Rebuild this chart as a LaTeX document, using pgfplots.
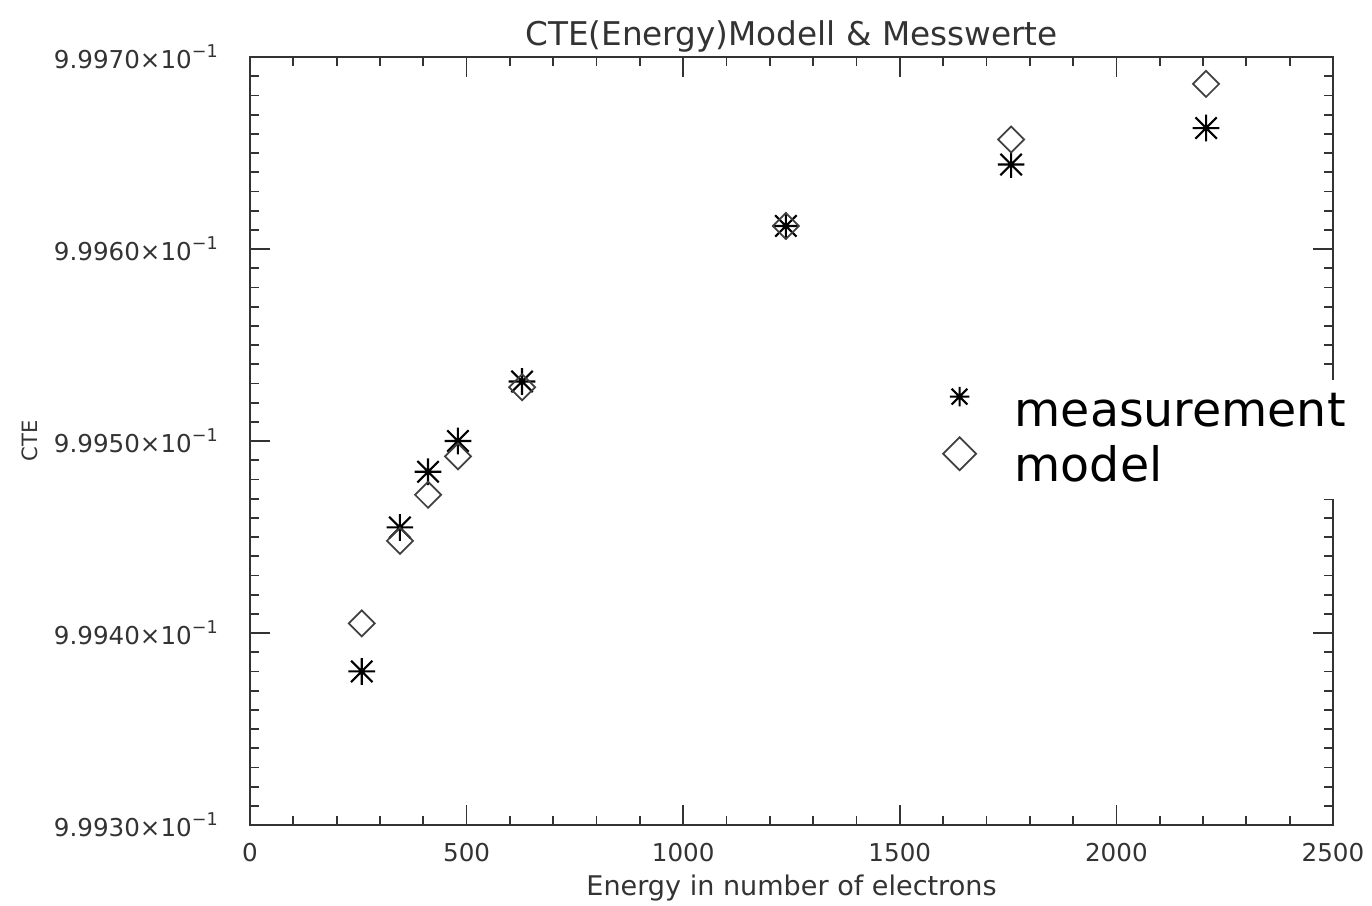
\documentclass[border=0pt]{standalone}
\usepackage{fontspec}
\setmainfont{DejaVu Sans}
\usepackage{pgfplots}
\pgfplotsset{compat=1.18}

% IDL-like marks: 8-arm asterisk and open diamond
\pgfdeclareplotmark{star8}{%
  \pgfpathmoveto{\pgfqpoint{-\pgfplotmarksize}{0pt}}\pgfpathlineto{\pgfqpoint{\pgfplotmarksize}{0pt}}%
  \pgfpathmoveto{\pgfqpoint{0pt}{-\pgfplotmarksize}}\pgfpathlineto{\pgfqpoint{0pt}{\pgfplotmarksize}}%
  \pgfpathmoveto{\pgfqpoint{-0.8\pgfplotmarksize}{-0.8\pgfplotmarksize}}\pgfpathlineto{\pgfqpoint{0.8\pgfplotmarksize}{0.8\pgfplotmarksize}}%
  \pgfpathmoveto{\pgfqpoint{-0.8\pgfplotmarksize}{0.8\pgfplotmarksize}}\pgfpathlineto{\pgfqpoint{0.8\pgfplotmarksize}{-0.8\pgfplotmarksize}}%
  \pgfusepathqstroke}
\pgfdeclareplotmark{dia}{%
  \pgfpathmoveto{\pgfqpoint{0pt}{\pgfplotmarksize}}\pgfpathlineto{\pgfqpoint{\pgfplotmarksize}{0pt}}%
  \pgfpathlineto{\pgfqpoint{0pt}{-\pgfplotmarksize}}\pgfpathlineto{\pgfqpoint{-\pgfplotmarksize}{0pt}}%
  \pgfpathclose\pgfusepathqstroke}

\pgfplotsset{
  starleg/.style={legend image code/.code={\path[draw=none] (-1.8mm,0)--(4.8mm,0); \draw[##1,only marks,mark size=2.8pt] plot coordinates {(0mm,1.6mm)};}},
  dialeg/.style={legend image code/.code={\path[draw=none] (-1.8mm,0)--(4.8mm,0); \draw[##1,only marks,mark size=4.7pt] plot coordinates {(0mm,1.2mm)};}},
}

\pgfplotstableread{
x cte
258 0.999380
346 0.999455
411 0.999484
480 0.999500
628 0.999531
1237 0.999612
1757 0.999644
2207 0.999663
}\measured
\pgfplotstableread{
x cte
258 0.999405
346 0.999448
411 0.999472
480 0.999492
628 0.999528
1237 0.999612
1757 0.999657
2207 0.999686
}\model

\begin{document}
\begin{tikzpicture}
\begin{axis}[
  width=108.3mm, height=76.8mm, scale only axis,
  xmin=0, xmax=2500, ymin=0.9993, ymax=0.9997,
  xtick={0,500,...,2500}, minor x tick num=4,
  ytick={0.9993,0.9994,0.9995,0.9996,0.9997},
  yticklabels={9.9930×10\textsuperscript{−1},9.9940×10\textsuperscript{−1},9.9950×10\textsuperscript{−1},9.9960×10\textsuperscript{−1},9.9970×10\textsuperscript{−1}},
  scaled y ticks=false,
  minor y tick num=9,
  tick align=inside,
  major tick length=2mm, minor tick length=0.9mm,
  axis line style={black!80, line width=0.6pt},
  every tick/.style={black!80, line width=0.5pt},
  tick label style={font=\fontsize{7}{8}\selectfont, text=black!80},
  xticklabel style={inner sep=0.5pt, yshift=-1.6mm, /pgf/number format/set thousands separator={}},
  yticklabel style={xshift=-1.8mm},
  /pgf/number format/assume math mode=true,
  title={CTE(Energy)Modell \& Messwerte},
  title style={font=\fontsize{9.3}{11}\selectfont, text=black!80, yshift=-2.9mm},
  xlabel={Energy in number of electrons},
  every axis x label/.style={at={(rel axis cs:0.5,0)}, anchor=center, yshift=-6.3mm, inner sep=0pt, font=\fontsize{7.7}{9}\selectfont, text=black!80},
  ylabel={CTE},
  every axis y label/.style={at={(rel axis cs:0,0.5)}, xshift=-22mm, rotate=90, anchor=center, inner sep=0pt, font=\fontsize{6}{7}\selectfont, text=black!80},
  legend style={at={(axis cs:1581,0.999532)}, anchor=north west, draw=none, fill=white,
    inner sep=0.6mm, font=\fontsize{13.5}{16}\selectfont, row sep=-0.5pt},
  legend cell align=left,
]
\addplot[only marks, mark=star8, mark size=3.8pt, line width=0.6pt, black, starleg]
  table[x=x, y=cte] {\measured};
\addlegendentry{measurement}
\addplot[only marks, mark=dia, mark size=3.7pt, line width=0.5pt, black!75, dialeg]
  table[x=x, y=cte] {\model};
\addlegendentry{model}
\end{axis}
\path (-25mm,-8mm) rectangle (112.2mm,82.5mm);
\end{tikzpicture}
\end{document}
